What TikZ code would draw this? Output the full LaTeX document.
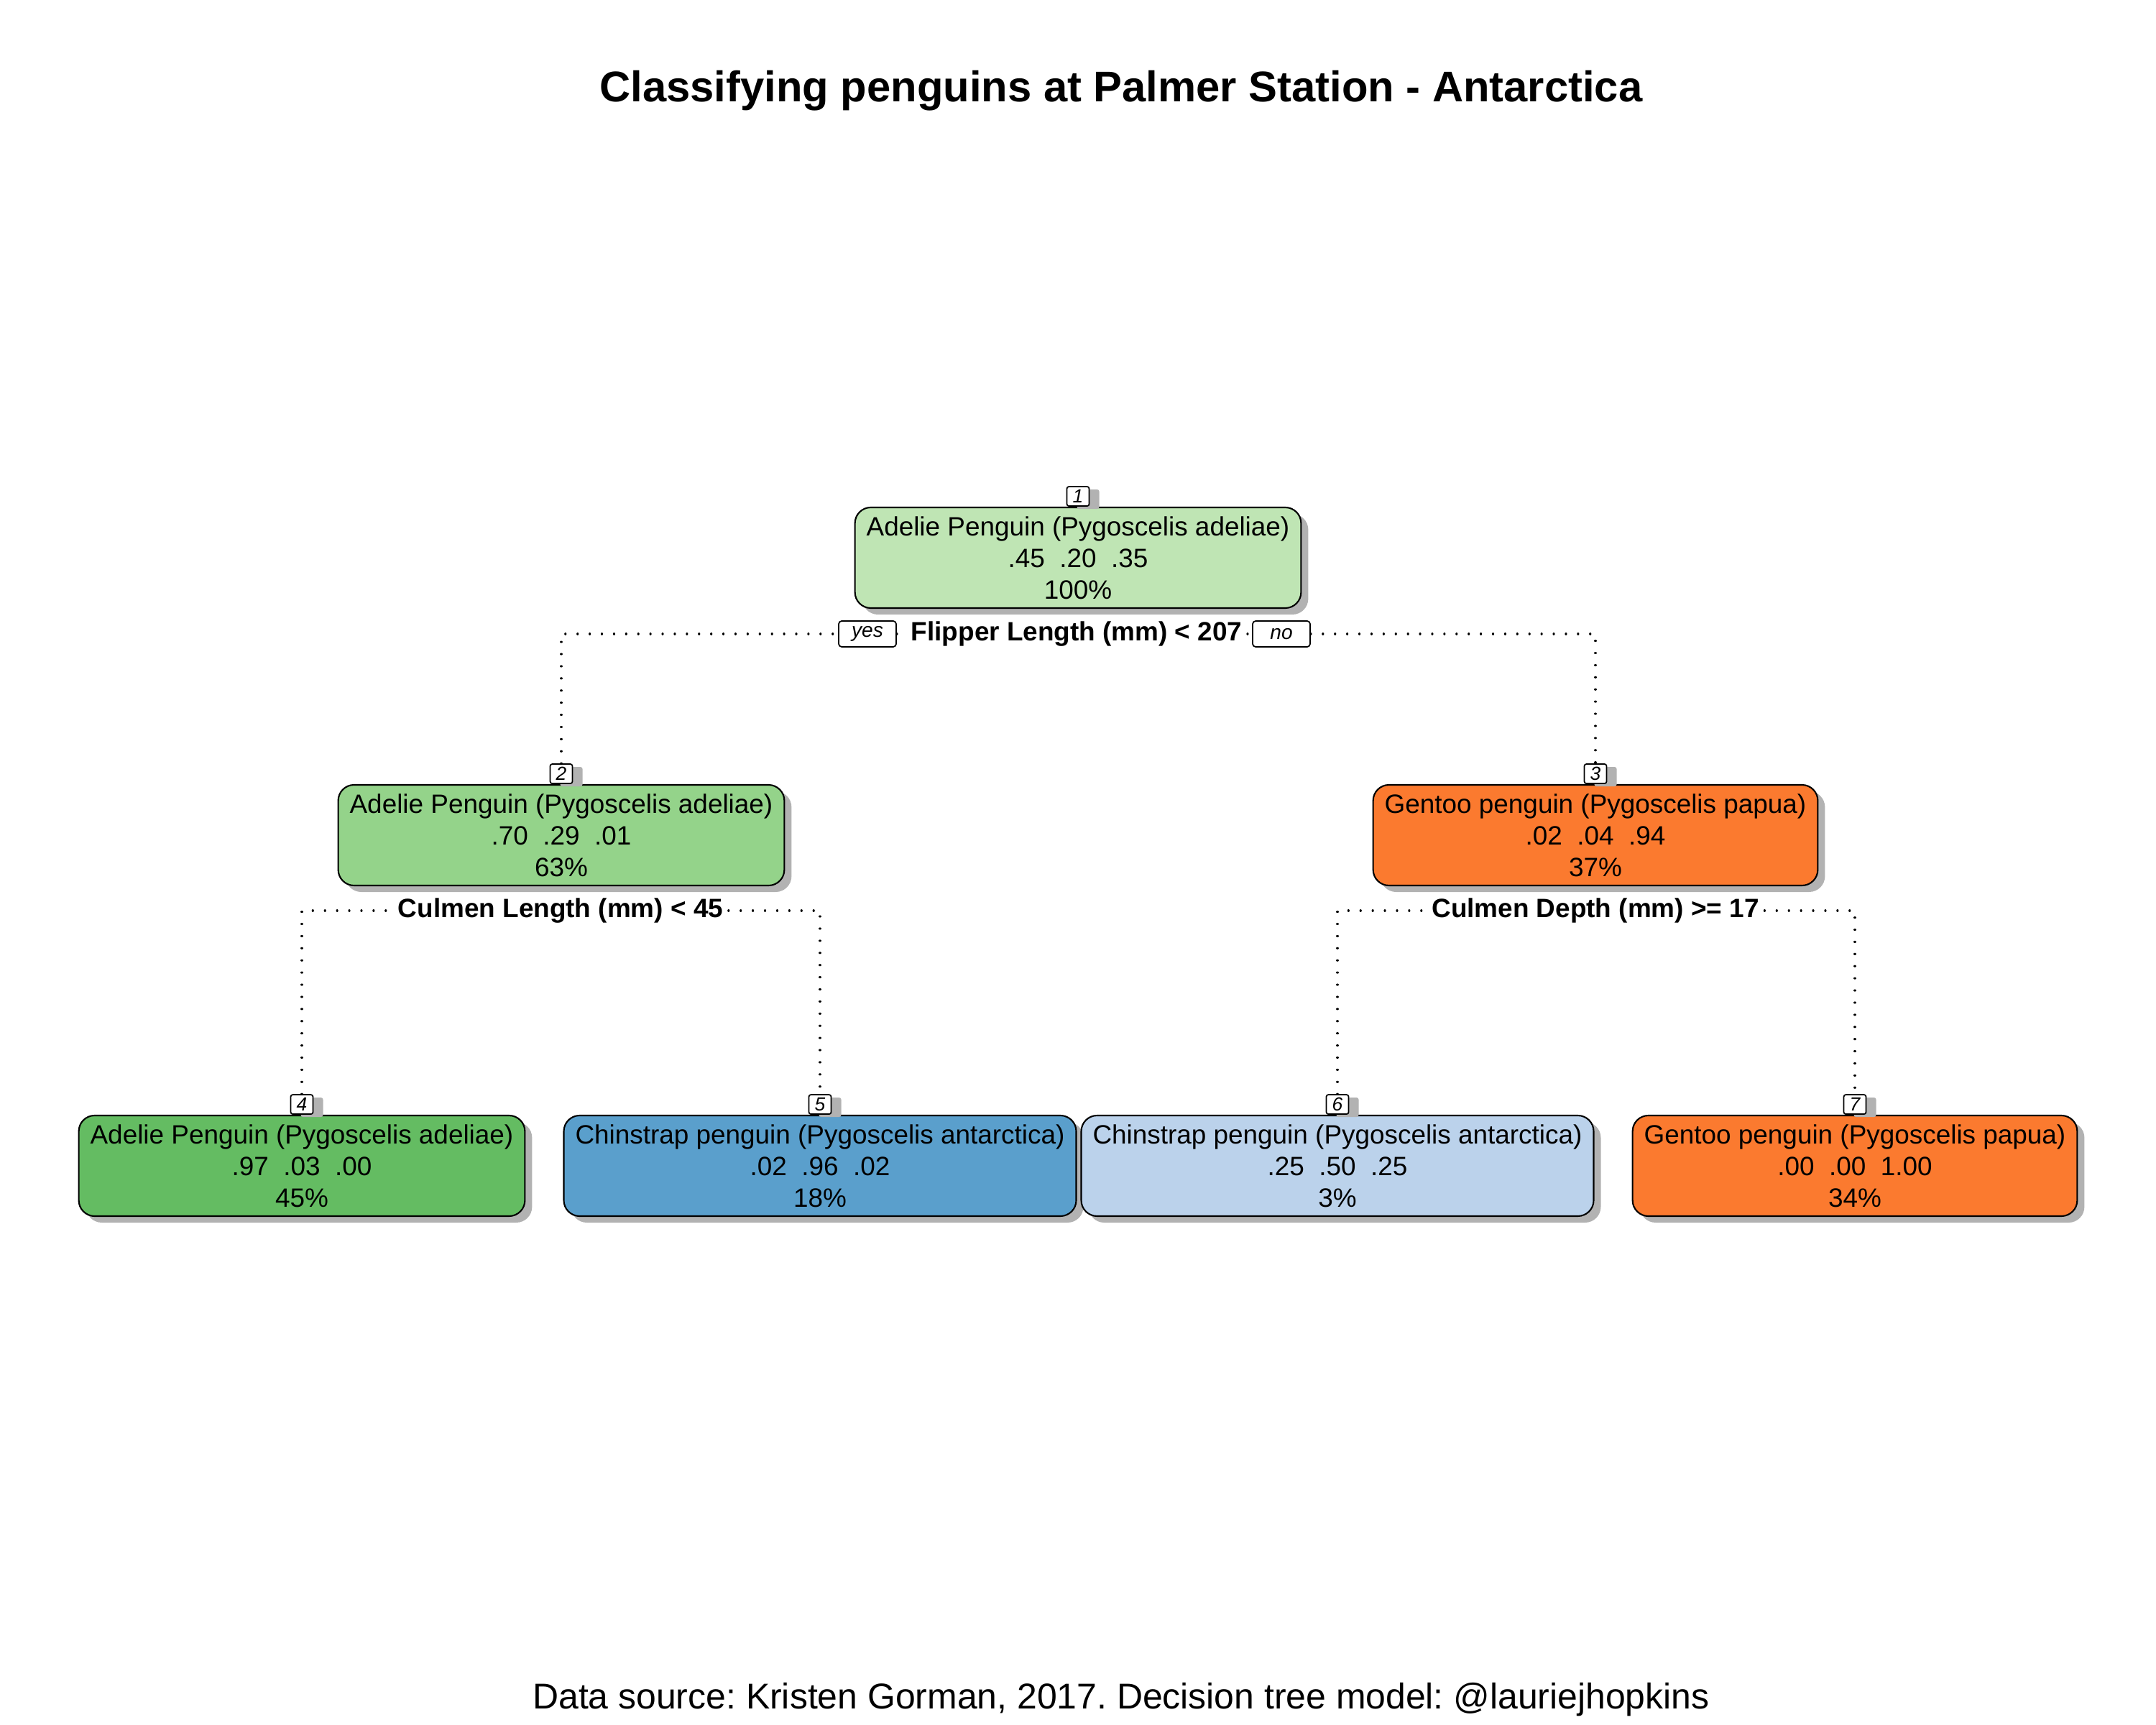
\documentclass[tikz,border=0pt]{standalone}
\usepackage{fontspec}
\setmainfont{Liberation Sans}
\usetikzlibrary{positioning,shadows}
\definecolor{adeliepale}{HTML}{BFE5B4}
\definecolor{adeliemid}{HTML}{94D38A}
\definecolor{adeliedark}{HTML}{64BC62}
\definecolor{chinstrapdark}{HTML}{5A9FCC}
\definecolor{chinstrappale}{HTML}{BBD2EB}
\definecolor{gentoo}{HTML}{FB7A2F}
\frenchspacing
\begin{document}
\begin{tikzpicture}[font=\fontsize{10.5}{12.5}\selectfont, line join=round, line cap=round,
    treenode/.style={draw, line width=0.6pt, rounded corners=0.22cm, align=center, minimum height=1.40cm, inner xsep=0.16cm,
      drop shadow={shadow xshift=0.1cm, shadow yshift=-0.09cm, fill=black!30, opacity=1}},
    nnbox/.style={draw, fill=white, line width=0.5pt, rounded corners=0.8pt, inner sep=0pt, minimum width=0.31cm, minimum height=0.27cm,
      font=\fontsize{7.5}{8}\selectfont\itshape, drop shadow={shadow xshift=0.14cm, shadow yshift=-0.04cm, fill=black!30, opacity=1}},
    yesno/.style={draw, fill=white, line width=0.5pt, rounded corners=1.2pt, inner sep=0pt, minimum width=0.8cm, minimum height=0.36cm,
      font=\fontsize{8}{9}\selectfont\itshape},
    split/.style={font=\fontsize{10.5}{12}\selectfont\bfseries, inner sep=2pt},
    branch/.style={line width=0.9pt, dash pattern=on 0.01pt off 4.8pt}]
  \useasboundingbox (0,0) rectangle (30,-24);
  \node[font=\fontsize{17}{20}\selectfont\bfseries] (title) at (15.60,-1.26) {Classifying penguins at Palmer Station - Antarctica};
  % root
  \node[treenode, fill=adeliepale] (n1) at (15.00,-7.76) {Adelie Penguin (Pygoscelis adeliae)\\.45\ \ .20\ \ .35\\100\%};
  \node[nnbox, above=0pt of n1] (nn1) {1};
  \node[split] (s1) at (14.98,-8.82) {Flipper Length (mm) < 207};
  \node[yesno] (yes) at (12.07,-8.82) {yes};
  \node[yesno] (no) at (17.83,-8.82) {no};
  % second level
  \node[treenode, fill=adeliemid] (n2) at (7.81,-11.62) {Adelie Penguin (Pygoscelis adeliae)\\.70\ \ .29\ \ .01\\63\%};
  \node[nnbox, above=0pt of n2] (nn2) {2};
  \node[treenode, fill=gentoo] (n3) at (22.20,-11.62) {Gentoo penguin (Pygoscelis papua)\\.02\ \ .04\ \ .94\\37\%};
  \node[nnbox, above=0pt of n3] (nn3) {3};
  \node[split] (s2) at (7.80,-12.67) {Culmen Length (mm) < 45};
  \node[split] (s3) at (22.20,-12.67) {Culmen Depth (mm) >= 17};
  % leaves
  \node[treenode, fill=adeliedark] (n4) at (4.20,-16.22) {Adelie Penguin (Pygoscelis adeliae)\\.97\ \ .03\ \ .00\\45\%};
  \node[nnbox, above=0pt of n4] (nn4) {4};
  \node[treenode, fill=chinstrapdark] (n5) at (11.41,-16.22) {Chinstrap penguin (Pygoscelis antarctica)\\.02\ \ .96\ \ .02\\18\%};
  \node[nnbox, above=0pt of n5] (nn5) {5};
  \node[treenode, fill=chinstrappale] (n6) at (18.61,-16.22) {Chinstrap penguin (Pygoscelis antarctica)\\.25\ \ .50\ \ .25\\3\%};
  \node[nnbox, above=0pt of n6] (nn6) {6};
  \node[treenode, fill=gentoo] (n7) at (25.81,-16.22) {Gentoo penguin (Pygoscelis papua)\\.00\ \ .00\ \ 1.00\\34\%};
  \node[nnbox, above=0pt of n7] (nn7) {7};
  % branches
  \draw[branch] (nn2.north) |- (yes.west);
  \draw[branch] (yes.east) -- (s1.west);
  \draw[branch] (s1.east) -- (no.west);
  \draw[branch] (no.east) -| (nn3.north);
  \draw[branch] (nn4.north) |- (s2.west);
  \draw[branch] (s2.east) -| (nn5.north);
  \draw[branch] (nn6.north) |- (s3.west);
  \draw[branch] (s3.east) -| (nn7.north);
  \node[font=\fontsize{14.2}{17}\selectfont] (source) at (15.60,-23.65) {Data source: Kristen Gorman, 2017. Decision tree model: @lauriejhopkins};
\end{tikzpicture}
\end{document}
